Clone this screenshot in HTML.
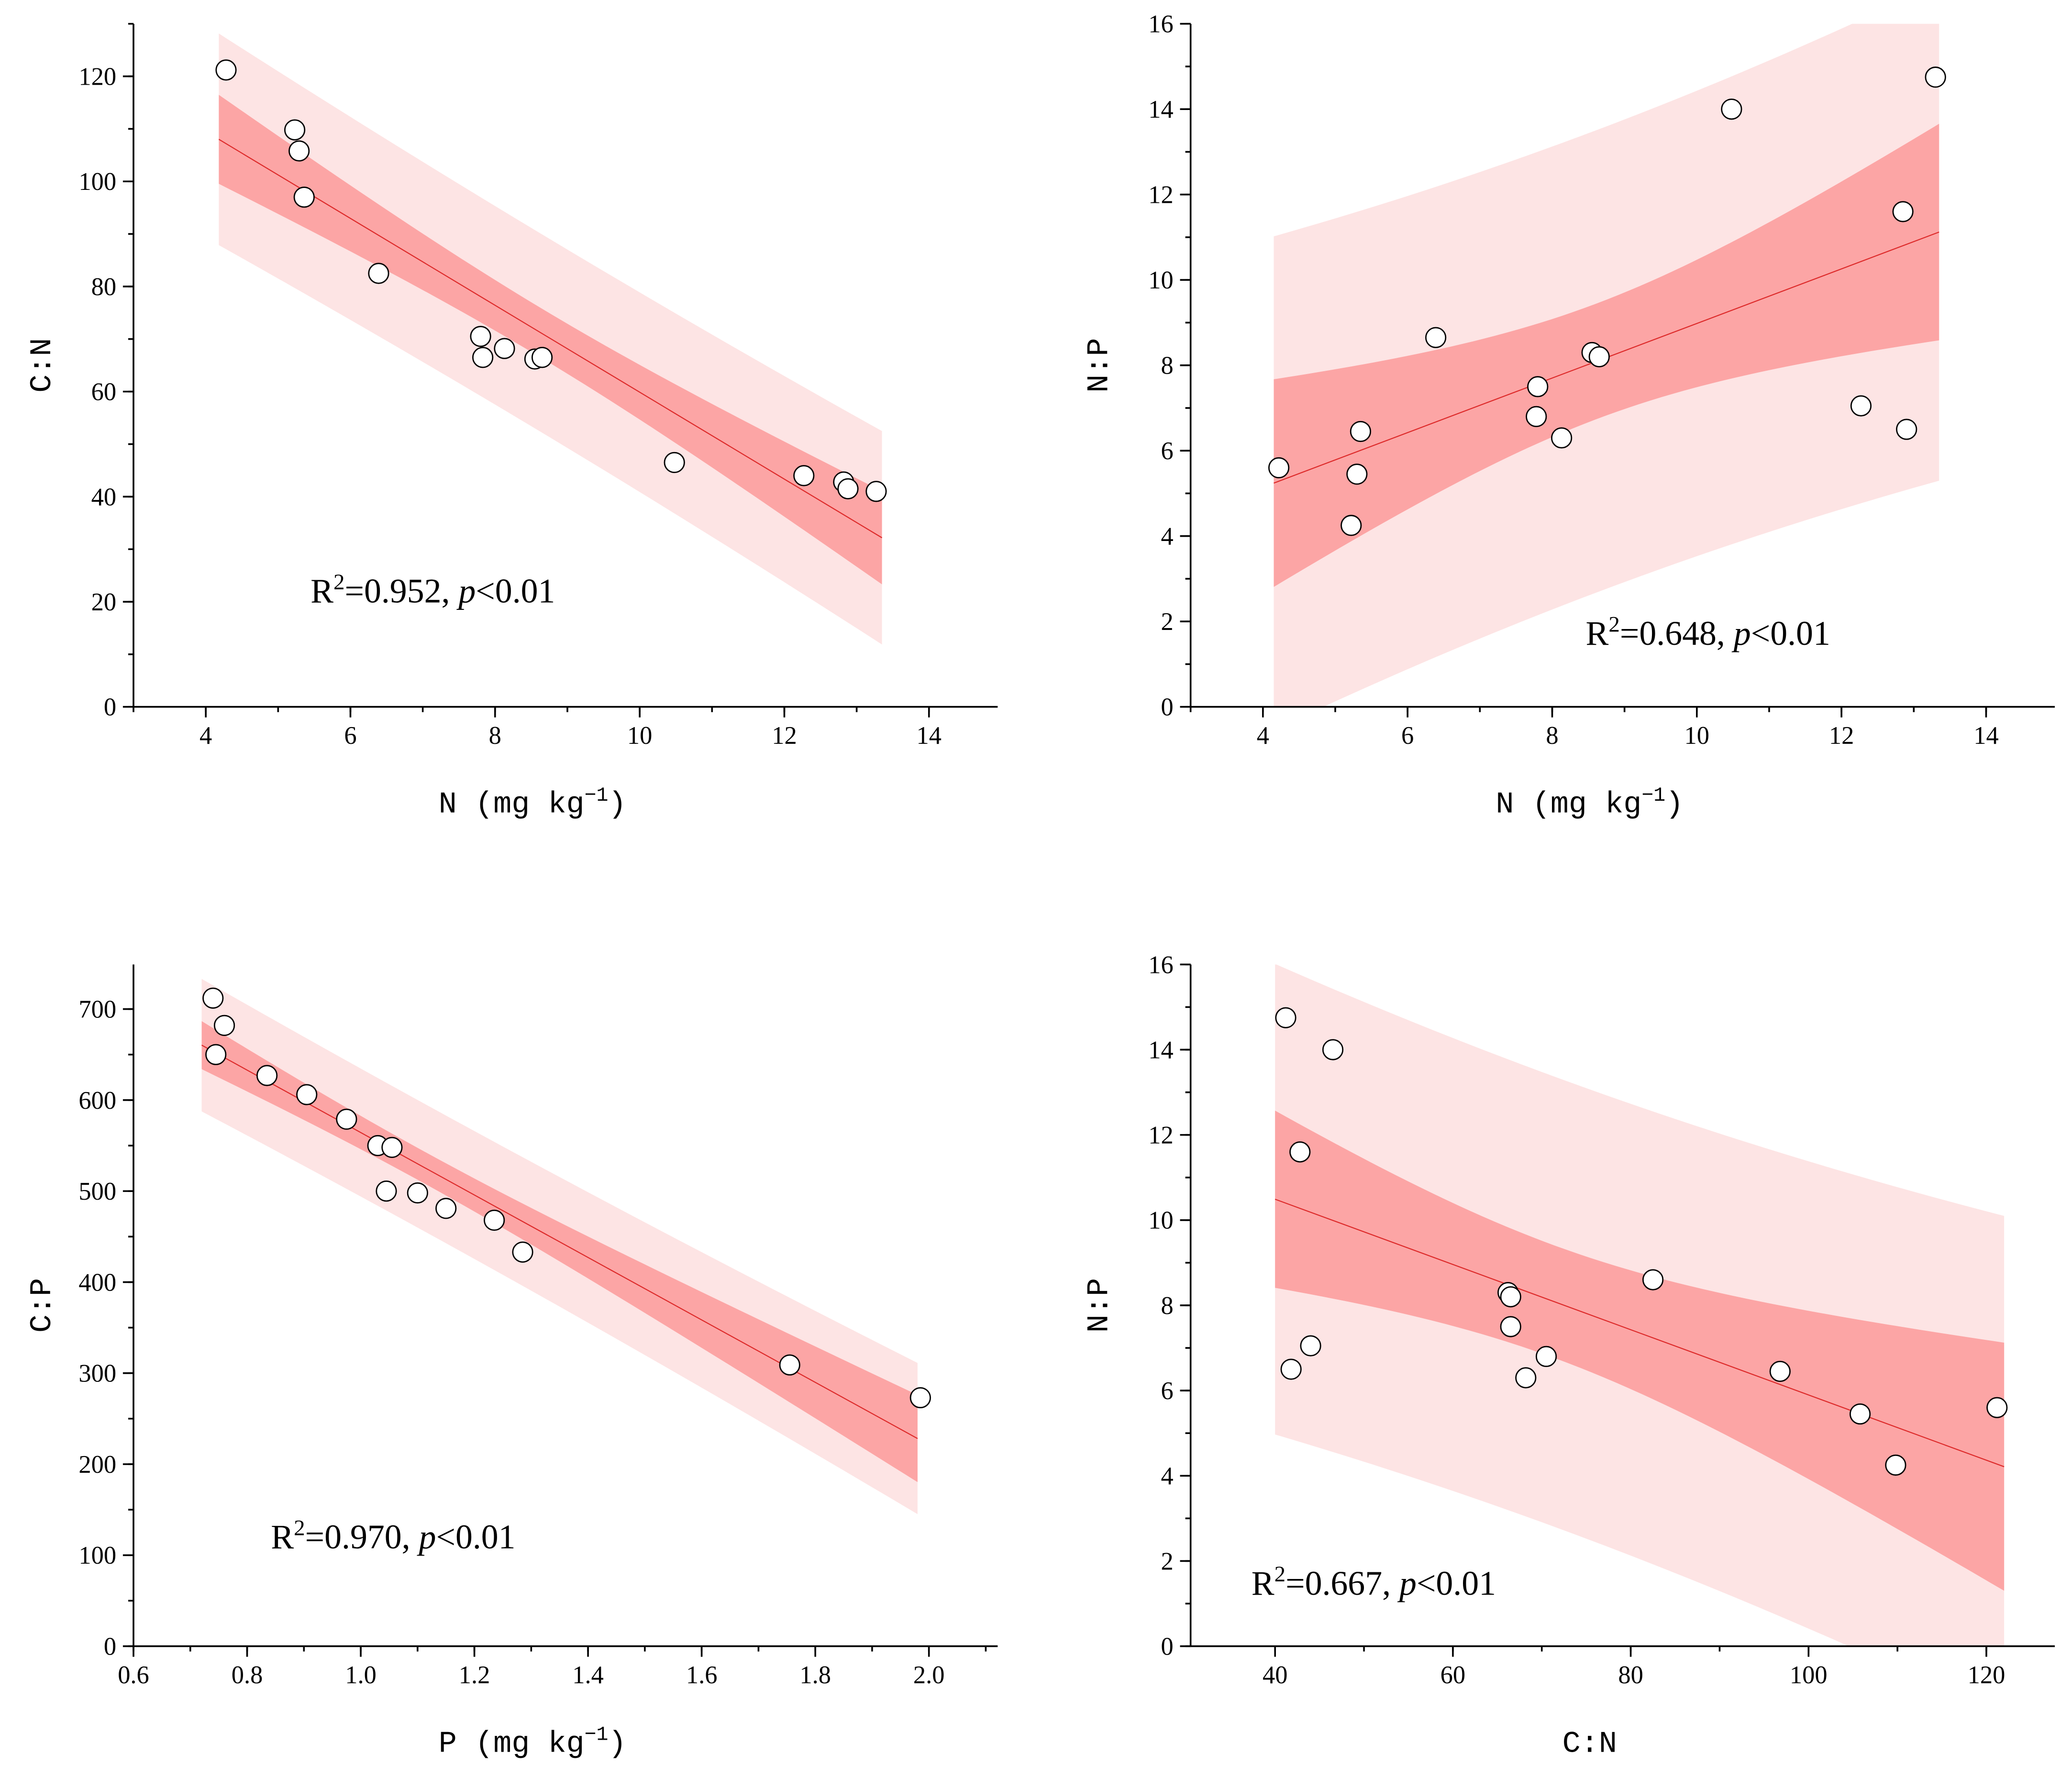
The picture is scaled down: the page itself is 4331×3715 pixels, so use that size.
<!DOCTYPE html>
<html><head><meta charset="utf-8"><style>
html,body{margin:0;padding:0;background:#fff;}
svg{display:block;}
text{font-family:"Liberation Serif","Noto Serif CJK SC",serif;fill:#000;}
text.mono{font-family:"Liberation Mono","Noto Sans CJK SC",monospace;}
</style></head><body>
<svg id="chart" width="4331" height="3715" viewBox="0 0 1568 1345" xmlns="http://www.w3.org/2000/svg"></svg>
<script>
// Panel 1: N vs C:N
const p1X=[4.28,5.23,5.29,5.36,6.39,7.8,7.83,8.13,8.55,8.65,10.48,12.27,12.82,12.88,13.27];
const p1Y=[121.2,109.8,105.8,97,82.5,70.5,66.5,68.2,66.2,66.5,46.5,44,42.8,41.5,41];
// Panel 2: N vs N:P
const p2X=[4.22,5.22,5.3,5.35,6.39,7.8,7.78,8.13,8.55,8.65,10.48,12.27,12.85,12.9,13.3];
const p2Y=[5.6,4.25,5.45,6.45,8.65,7.5,6.8,6.3,8.3,8.2,14,7.05,11.6,6.5,14.75];
// Panel 3: P vs C:P
const p3X=[0.74,0.76,0.745,0.835,0.905,0.975,1.03,1.055,1.045,1.1,1.15,1.235,1.285,1.755,1.985];
const p3Y=[712,682,650,627,606,579,550,548,500,498,481,468,433,309,273];
// Panel 4: C:N vs N:P
const p4X=[41.2,41.8,42.8,44,46.5,66.2,66.5,66.5,68.2,70.5,82.5,96.8,105.8,109.8,121.2];
const p4Y=[14.75,6.5,11.6,7.05,14,8.3,8.2,7.5,6.3,6.8,8.6,6.45,5.45,4.25,5.6];
// Tick labels
const p1XTicks=[4,6,8,10,12,14];
const p1YTicks=[0,20,40,60,80,100,120];
const p2YTicks=[0,2,4,6,8,10,12,14,16];
const p3XTicks=["0.6","0.8","1.0","1.2","1.4","1.6","1.8","2.0"];
const p3YTicks=[0,100,200,300,400,500,600,700];
const p4XTicks=[40,60,80,100,120];
const p4YTicks=[0,2,4,6,8,10,12,14,16];

const NS="http://www.w3.org/2000/svg";
const svg=document.getElementById('chart');
function mk(tag,attrs,parent){const e=document.createElementNS(NS,tag);for(const k in attrs)e.setAttribute(k,attrs[k]);(parent||svg).appendChild(e);return e;}

const panels=[
 {id:'p1',xs:p1X,ys:p1Y,L:101,R:755,T:18,B:535,xmin:3,xmax:14.95,ymin:0,ymax:130,
  xt:p1XTicks,xminor:1,yt:p1YTicks,yminor:10,fit:[4.18,13.35],xtitle:'N (mg kg',xsup:'−1',ytitle:'C:N',ann:[235,456]},
 {id:'p2',xs:p2X,ys:p2Y,L:901,R:1555,T:18,B:535,xmin:3,xmax:14.95,ymin:0,ymax:16,
  xt:p1XTicks,xminor:1,yt:p2YTicks,yminor:1,fit:[4.15,13.35],xtitle:'N (mg kg',xsup:'−1',ytitle:'N:P',ann:[1200,488]},
 {id:'p3',xs:p3X,ys:p3Y,L:101,R:755,T:730,B:1246,xmin:0.6,xmax:2.121,ymin:0,ymax:749,
  xt:p3XTicks,xminor:0.1,yt:p3YTicks,yminor:50,fit:[0.72,1.98],xtitle:'P (mg kg',xsup:'−1',ytitle:'C:P',ann:[205,1172]},
 {id:'p4',xs:p4X,ys:p4Y,L:901,R:1555,T:730,B:1246,xmin:30.5,xmax:127.7,ymin:0,ymax:16,
  xt:p4XTicks,xminor:10,yt:p4YTicks,yminor:1,fit:[40,122],xtitle:'C:N',xsup:null,ytitle:'N:P',ann:[947,1207]}
];
const r2=['0.952','0.648','0.970','0.667'];
const T=2.160;

panels.forEach((p,pi)=>{
 const g=mk('g',{});
 
 
 const sx=v=>p.L+(v-p.xmin)/(p.xmax-p.xmin)*(p.R-p.L);
 const sy=v=>p.B-(v-p.ymin)/(p.ymax-p.ymin)*(p.B-p.T);
 const cp=mk('clipPath',{id:'clip'+pi},g);
 mk('rect',{x:p.L,y:p.T,width:p.R-p.L,height:p.B-p.T},cp);
 const n=p.xs.length;let mx=0,my=0;p.xs.forEach((v,i)=>{mx+=v;my+=p.ys[i];});mx/=n;my/=n;
 let sxx=0,sxy=0;p.xs.forEach((v,i)=>{sxx+=(v-mx)**2;sxy+=(v-mx)*(p.ys[i]-my);});
 const b=sxy/sxx,a=my-b*mx;let sse=0;p.xs.forEach((v,i)=>{sse+=(p.ys[i]-a-b*v)**2;});
 const s=Math.sqrt(sse/(n-2));
 const grid=[];for(let k=0;k<=60;k++)grid.push(p.fit[0]+(p.fit[1]-p.fit[0])*k/60);
 function band(pred,color,name){
  const up=[],lo=[];
  grid.forEach(x=>{const yh=a+b*x;const se=s*Math.sqrt((pred?1:0)+1/n+(x-mx)**2/sxx);
   up.push(sx(x).toFixed(2)+','+sy(yh+T*se).toFixed(2));lo.unshift(sx(x).toFixed(2)+','+sy(yh-T*se).toFixed(2));});
  const e=mk('polygon',{points:up.concat(lo).join(' '),fill:color,'clip-path':'url(#clip'+pi+')'},g);
  
  
 }
 band(true,'#fde4e4','prediction-band');
 band(false,'#fca5a5','confidence-band');
 const ln=mk('line',{x1:sx(p.fit[0]),y1:sy(a+b*p.fit[0]),x2:sx(p.fit[1]),y2:sy(a+b*p.fit[1]),stroke:'#dd2a2a','stroke-width':0.8},g);
 
 
 const ax=mk('g',{stroke:'#000','stroke-width':1.3},g);
 
 
 mk('line',{x1:p.L,y1:p.B,x2:p.R,y2:p.B},ax);
 mk('line',{x1:p.L,y1:p.T,x2:p.L,y2:p.B},ax);
 for(let v=Math.ceil((p.xmin-1e-9)/p.xminor)*p.xminor;v<=p.xmax+1e-9;v+=p.xminor){
  const X=sx(v);mk('line',{x1:X,y1:p.B,x2:X,y2:p.B+4},ax);}
 p.xt.forEach(t=>{const X=sx(parseFloat(t));mk('line',{x1:X,y1:p.B,x2:X,y2:p.B+8},ax);
  const tx=mk('text',{x:X,y:p.B+28,'font-size':19,'text-anchor':'middle'},g);tx.textContent=t;
  
  });
 for(let v=0;v<=p.ymax+1e-9;v+=p.yminor){const Y=sy(v);mk('line',{x1:p.L-4,y1:Y,x2:p.L,y2:Y},ax);}
 p.yt.forEach(t=>{const Y=sy(t);mk('line',{x1:p.L-8,y1:Y,x2:p.L,y2:Y},ax);
  const tx=mk('text',{x:p.L-13,y:Y+6.5,'font-size':19,'text-anchor':'end'},g);tx.textContent=t;
  
  });
 const xt=mk('text',{x:(p.L+p.R)/2-25,y:p.B+80,'font-size':23,'text-anchor':'middle','class':'mono'},g);
 
 
 xt.textContent=p.xtitle;
 if(p.xsup){const sp=mk('tspan',{dy:-9,'font-size':15},xt);sp.textContent=p.xsup;const sp2=mk('tspan',{dy:9},xt);sp2.textContent=')';}
 const yc=(p.T+p.B)/2;
 const yt=mk('text',{x:p.L-63,y:yc,'font-size':23,'text-anchor':'middle','class':'mono',transform:'rotate(-90 '+(p.L-63)+' '+yc+')'},g);
 
 
 yt.textContent=p.ytitle;
 const an=mk('text',{x:p.ann[0],y:p.ann[1],'font-size':26},g);
 
 
 let t1=mk('tspan',{},an);t1.textContent='R';
 let t2=mk('tspan',{dy:-10,'font-size':17},an);t2.textContent='2';
 let t3=mk('tspan',{dy:10},an);t3.textContent='=0'+r2[pi].slice(1)+', ';
 let t4=mk('tspan',{'font-style':'italic'},an);t4.textContent='p';
 let t5=mk('tspan',{},an);t5.textContent='<0.01';
 p.xs.forEach((v,i)=>{const c=mk('circle',{cx:sx(v),cy:sy(p.ys[i]),r:7.5,fill:'#fff',stroke:'#000','stroke-width':1},g);
  
  });
});
</script>
</body></html>
